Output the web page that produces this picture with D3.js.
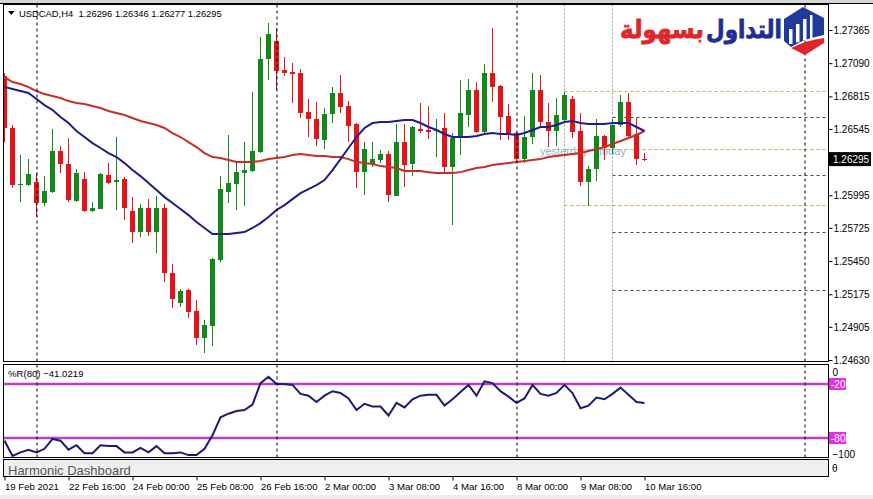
<!DOCTYPE html>
<html><head><meta charset="utf-8">
<script src="https://cdn.jsdelivr.net/npm/d3@7"></script>
<style>body{margin:0;background:#fff}svg{display:block}</style>
</head><body>
<svg id="c" width="873" height="499"></svg>
<script>
// ---------------- DATA ----------------
const symbol = "USDCAD,H4";
const headerOHLC = [1.26296, 1.26346, 1.26277, 1.26295];
const opens  = [1.26983,1.26553,1.26080,1.26080,1.26104,1.25931,1.26021,1.26362,1.26254,1.25948,1.26129,1.25865,1.25881,1.26163,1.26104,1.26129,1.25865,1.25690,1.25890,1.25690,1.25890,1.25350,1.25101,1.25209,1.25036,1.24812,1.24911,1.25458,1.26021,1.26088,1.26179,1.26196,1.26353,1.27124,1.27274,1.27033,1.27017,1.27008,1.26685,1.26627,1.26453,1.26669,1.26843,1.26735,1.26586,1.26187,1.26254,1.26287,1.26337,1.25988,1.26436,1.26254,1.26544,1.26536,1.26528,1.26553,1.26229,1.26478,1.26660,1.26868,1.26519,1.27008,1.26901,1.26652,1.26511,1.26295,1.26478,1.26868,1.26602,1.26528,1.26619,1.26793,1.26528,1.26104,1.26212,1.26486,1.26387,1.26578,1.26768,1.26503,1.26296];
const highs  = [1.27008,1.26578,1.26329,1.26295,1.26179,1.26154,1.26544,1.26403,1.26470,1.26212,1.26187,1.25939,1.26179,1.26262,1.26478,1.26146,1.25980,1.25923,1.25963,1.25988,1.25923,1.25425,1.25217,1.25217,1.25126,1.24961,1.25475,1.26154,1.26495,1.26262,1.26436,1.26851,1.27307,1.27423,1.27382,1.27141,1.27091,1.27041,1.26793,1.26768,1.26719,1.26892,1.26992,1.26776,1.26594,1.26436,1.26436,1.26370,1.26362,1.26586,1.26586,1.26569,1.26760,1.26735,1.26627,1.26677,1.26511,1.26950,1.26959,1.26934,1.27083,1.27382,1.26909,1.26752,1.26519,1.26652,1.27008,1.26992,1.26760,1.26801,1.26851,1.26818,1.26677,1.26237,1.26627,1.26495,1.26627,1.26826,1.26843,1.26636,1.26346];
const lows   = [1.26436,1.26055,1.25939,1.26071,1.25815,1.25906,1.26013,1.26179,1.25939,1.25939,1.25856,1.25856,1.25881,1.26088,1.25873,1.25790,1.25599,1.25649,1.25657,1.25516,1.25275,1.25060,1.25068,1.24978,1.24754,1.24687,1.24745,1.25441,1.25931,1.25873,1.25906,1.26187,1.26345,1.26950,1.26868,1.26983,1.26760,1.26636,1.26478,1.26403,1.26378,1.26594,1.26677,1.26436,1.26055,1.25997,1.26229,1.26262,1.25939,1.25988,1.26063,1.26154,1.26511,1.26461,1.26312,1.26187,1.25748,1.26329,1.26561,1.26511,1.26511,1.26768,1.26453,1.26453,1.26262,1.26262,1.26420,1.26561,1.26395,1.26403,1.26611,1.26470,1.26071,1.25906,1.26113,1.26287,1.26337,1.26561,1.26478,1.26246,1.26277];
const closes = [1.26553,1.26080,1.26088,1.26171,1.25931,1.26030,1.26362,1.26254,1.25956,1.26179,1.25865,1.25890,1.26171,1.26096,1.26121,1.25890,1.25690,1.25890,1.25690,1.25890,1.25350,1.25134,1.25201,1.25027,1.24812,1.24920,1.25466,1.26046,1.26096,1.26187,1.26204,1.26362,1.27124,1.27332,1.27025,1.27008,1.27000,1.26677,1.26627,1.26461,1.26669,1.26843,1.26727,1.26569,1.26187,1.26378,1.26295,1.26337,1.25997,1.26436,1.26246,1.26561,1.26528,1.26519,1.26536,1.26229,1.26470,1.26677,1.26868,1.26519,1.27008,1.26892,1.26644,1.26511,1.26295,1.26478,1.26868,1.26602,1.26528,1.26660,1.26826,1.26519,1.26104,1.26212,1.26486,1.26387,1.26578,1.26768,1.26486,1.26295,1.26295];
const maFast = [1.26892,1.26876,1.26859,1.26843,1.26793,1.26743,1.26702,1.26644,1.26594,1.26528,1.26478,1.26428,1.26387,1.26345,1.26312,1.26262,1.26204,1.26154,1.26096,1.26038,1.25980,1.25931,1.25881,1.25831,1.25773,1.25724,1.25674,1.25674,1.25674,1.25682,1.25690,1.25724,1.25765,1.25815,1.25873,1.25914,1.25963,1.26013,1.26046,1.26080,1.26121,1.26204,1.26295,1.26387,1.26478,1.26553,1.26594,1.26602,1.26602,1.26611,1.26619,1.26619,1.26594,1.26561,1.26536,1.26503,1.26478,1.26478,1.26478,1.26486,1.26503,1.26511,1.26503,1.26503,1.26495,1.26511,1.26536,1.26561,1.26561,1.26578,1.26602,1.26611,1.26594,1.26586,1.26586,1.26586,1.26594,1.26594,1.26594,1.26561,1.26528];
const maSlow = [1.26975,1.26934,1.26917,1.26892,1.26859,1.26834,1.26818,1.26801,1.26776,1.26760,1.26752,1.26735,1.26719,1.26694,1.26677,1.26660,1.26636,1.26611,1.26594,1.26578,1.26553,1.26511,1.26478,1.26436,1.26395,1.26345,1.26312,1.26304,1.26287,1.26271,1.26271,1.26271,1.26279,1.26295,1.26304,1.26312,1.26329,1.26337,1.26329,1.26320,1.26320,1.26312,1.26312,1.26295,1.26271,1.26262,1.26254,1.26237,1.26229,1.26221,1.26196,1.26196,1.26196,1.26187,1.26179,1.26179,1.26179,1.26187,1.26204,1.26221,1.26229,1.26246,1.26254,1.26262,1.26271,1.26279,1.26287,1.26295,1.26312,1.26320,1.26329,1.26337,1.26345,1.26362,1.26378,1.26395,1.26420,1.26445,1.26470,1.26495,1.26528];
const wpr = [-83,-100,-96,-93,-96,-92,-81,-83,-93,-88,-97,-97,-88,-89,-89,-96,-96,-91,-96,-89,-97,-97,-96,-99,-99,-92,-77,-57,-53,-50,-49,-43,-19,-12,-20,-20,-21,-31,-33,-40,-33,-28,-30,-36,-49,-42,-45,-45,-55,-41,-46,-37,-33,-32,-32,-44,-37,-29,-21,-33,-17,-19,-28,-34,-41,-36,-21,-31,-33,-30,-21,-30,-47,-44,-35,-37,-31,-24,-32,-40,-41.0219];
const wprPeriod = 80;
const wprLevels = [-20, -80];
const wprTicks = [0, -100];
const priceTicks = [1.27365,1.27090,1.26815,1.26545,1.25995,1.25725,1.25450,1.25175,1.24905,1.24630];
const currentPrice = 1.26295;
const timeLabels = ["19 Feb 2021","22 Feb 16:00","24 Feb 00:00","25 Feb 08:00","26 Feb 16:00","2 Mar 00:00","3 Mar 08:00","4 Mar 16:00","8 Mar 00:00","9 Mar 08:00","10 Mar 16:00"];
const timeLabelBars = [0,8,16,24,32,40,48,56,64,72,80];
const weekSeparators = [4,34,64,100];
const daySeparators = [70,76];
const yesterdayLevels = [1.26862,1.26379,1.25915];
const pivotLevels = [1.26644,1.26163,1.25691,1.25210];
const logoWords = ["التداول","بسهولة"];

// ---------------- LAYOUT ----------------
const W=873,H=499;
const L=3.5,R=828.5;
const mainTop=4.5,mainBot=361.5,indTop=364.5,indBot=457.5,dashTop=459.5,dashBot=476.5;
const FONT="'Liberation Sans', Arial, sans-serif";
const GREEN="#15861a", RED="#e3151b";

const svg=d3.select("#c");
svg.append("rect").attr("width",W).attr("height",H).attr("fill","#fff");
svg.append("rect").attr("width",W).attr("height",3).attr("fill","#d6d6d6");
svg.append("rect").attr("y",495).attr("width",W).attr("height",4).attr("fill","#ececec");

const x=d3.scaleLinear().domain([0,100]).range([4.5,804.5]);
const y=d3.scaleLinear().domain([1.24630,1.27365]).range([360,30]);
const yW=d3.scaleLinear().domain([-100,0]).range([456,366]);

const defs=svg.append("defs");
defs.append("clipPath").attr("id","mclip").append("rect").attr("x",4).attr("y",5).attr("width",824).attr("height",356);
defs.append("clipPath").attr("id","iclip").append("rect").attr("x",4).attr("y",365).attr("width",824).attr("height",92);

// panels
svg.append("line").attr("x1",0).attr("x2",W).attr("y1",3.5).attr("y2",3.5).attr("stroke","#000");
svg.append("rect").attr("x",L).attr("y",mainTop).attr("width",R-L).attr("height",mainBot-mainTop).attr("fill","#fff").attr("stroke","#000");
svg.append("rect").attr("x",L).attr("y",indTop).attr("width",R-L).attr("height",indBot-indTop).attr("fill","#fff").attr("stroke","#000");
svg.append("rect").attr("x",L).attr("y",dashTop).attr("width",R-L).attr("height",dashBot-dashTop).attr("fill","#efefef").attr("stroke","#000");

const main=svg.append("g").attr("clip-path","url(#mclip)");
const ind=svg.append("g").attr("clip-path","url(#iclip)");

// separators
weekSeparators.forEach(b=>{
  [[mainTop,mainBot],[indTop,indBot]].forEach(([a,c])=>{
    svg.append("line").attr("x1",Math.round(x(b))).attr("x2",Math.round(x(b)))
      .attr("y1",a).attr("y2",c).attr("stroke","#000").attr("stroke-dasharray","3,3");
  });
});
daySeparators.forEach(b=>{
  main.append("line").attr("x1",x(b)).attr("x2",x(b)).attr("y1",mainTop).attr("y2",mainBot)
    .attr("stroke","#9a9a9a").attr("stroke-dasharray","2,2");
});
yesterdayLevels.forEach(p=>{
  main.append("line").attr("x1",x(daySeparators[0])).attr("x2",R).attr("y1",Math.round(y(p))+0.5).attr("y2",Math.round(y(p))+0.5)
    .attr("stroke","#d6a54c").attr("stroke-dasharray","3,3");
});
pivotLevels.forEach(p=>{
  main.append("line").attr("x1",x(daySeparators[1])).attr("x2",R).attr("y1",Math.round(y(p))+0.5).attr("y2",Math.round(y(p))+0.5)
    .attr("stroke","#2e5e2e").attr("stroke-dasharray","3,3");
});
main.append("text").attr("x",540).attr("y",y(1.26327)).attr("font-family",FONT).attr("font-size",11).attr("fill","#8fb2c6").text("yesterday");
main.append("text").attr("x",599).attr("y",y(1.26327)).attr("font-family",FONT).attr("font-size",11).attr("fill","#8fb2c6").text("today");

// candles
const idx=d3.range(opens.length);
const cg=main.append("g").attr("shape-rendering","crispEdges");
cg.selectAll("line.w").data(idx).join("line")
  .attr("x1",i=>x(i)).attr("x2",i=>x(i)).attr("y1",i=>y(highs[i])).attr("y2",i=>y(lows[i]))
  .attr("stroke",i=>closes[i]>=opens[i]?GREEN:RED);
cg.selectAll("rect").data(idx).join("rect")
  .attr("x",i=>x(i)-2.5).attr("width",5)
  .attr("y",i=>y(Math.max(opens[i],closes[i])))
  .attr("height",i=>Math.max(1,Math.abs(y(opens[i])-y(closes[i]))))
  .attr("fill",i=>closes[i]>=opens[i]?GREEN:RED);

// moving averages
const ln=d3.line().x((d,i)=>x(i)).y(d=>y(d));
main.append("path").attr("d",ln(maSlow)).attr("fill","none").attr("stroke","#c62f29").attr("stroke-width",2);
main.append("path").attr("d",ln(maFast)).attr("fill","none").attr("stroke","#1c1c8e").attr("stroke-width",2);

// %R
wprLevels.forEach(v=>{
  ind.append("line").attr("x1",L).attr("x2",R).attr("y1",yW(v)).attr("y2",yW(v)).attr("stroke","#c23ec8").attr("stroke-width",2.5);
});
const lnW=d3.line().x((d,i)=>x(i)).y(d=>yW(d));
ind.append("path").attr("d",lnW(wpr)).attr("fill","none").attr("stroke","#1b1b70").attr("stroke-width",2);

// price axis
const ay=svg.append("g").attr("transform",`translate(${R},0)`)
  .call(d3.axisRight(y).tickValues(priceTicks).tickFormat(d3.format(".5f")).tickSize(4).tickPadding(1));
ay.select(".domain").remove();
ay.selectAll("text").attr("font-family",FONT).attr("font-size",10).attr("fill","#000");
svg.append("rect").attr("x",829).attr("y",y(currentPrice)-7).attr("width",42).attr("height",14).attr("fill","#000");
svg.append("text").attr("x",833).attr("y",y(currentPrice)+4).attr("font-family",FONT).attr("font-size",10).attr("fill","#fff").text(d3.format(".5f")(currentPrice));

// %R axis
const aw=svg.append("g").attr("transform",`translate(${R},0)`)
  .call(d3.axisRight(yW).tickValues(wprTicks).tickSize(0).tickPadding(4));
aw.select(".domain").remove();
aw.selectAll("text").attr("font-family",FONT).attr("font-size",10).attr("fill","#000")
  .attr("dy",(d)=>d===0?"0.9em":"0.1em");
wprLevels.forEach(v=>{
  svg.append("rect").attr("x",829).attr("y",yW(v)-6).attr("width",17).attr("height",12).attr("fill","#e032e0");
  svg.append("text").attr("x",831).attr("y",yW(v)+4).attr("font-family",FONT).attr("font-size",10).attr("fill","#fff").text(v);
});
svg.append("text").attr("x",832).attr("y",472).attr("font-family",FONT).attr("font-size",10).text("θ");

// time axis
const ax=svg.append("g").attr("transform",`translate(0,${dashBot})`)
  .call(d3.axisBottom(x).tickValues(timeLabelBars).tickFormat((d,i)=>timeLabels[i]).tickSize(4));
ax.select(".domain").remove();
ax.selectAll("text").attr("font-family",FONT).attr("font-size",9.6).attr("fill","#000")
  .attr("text-anchor","start").attr("y",13.5).attr("dy",0).attr("x",0);

// headers
svg.append("path").attr("d","M8,11 L14.5,11 L11.25,15 Z").attr("fill","#000");
svg.append("text").attr("x",19).attr("y",17).attr("font-family",FONT).attr("font-size",9.4)
  .attr("xml:space","preserve").text(symbol+"  "+headerOHLC.map(d3.format(".5f")).join(" "));
svg.append("text").attr("x",8).attr("y",377).attr("font-family",FONT).attr("font-size",9.6)
  .text(`%R(${wprPeriod}) ${d3.format(".4f")(wpr[wpr.length-1])}`);
svg.append("text").attr("x",8).attr("y",475).attr("font-family",FONT).attr("font-size",13).attr("fill","#555").text("Harmonic Dashboard");

// logo
const lg=svg.append("g");
function fitWord(word,cx,width,color){
  const t=lg.append("text").attr("x",cx).attr("y",38).attr("text-anchor","middle")
    .attr("font-family","'DejaVu Sans'").attr("font-weight","bold").attr("font-size",25)
    .attr("fill",color).attr("stroke",color).attr("stroke-width",0.8).text(word);
  const w=t.node().getBBox().width;
  const s=width/w;
  t.attr("transform",`translate(${cx},0) scale(${s},1) translate(${-cx},0)`);
}
fitWord(logoWords[0],744,76,"#1f2f8f");
fitWord(logoWords[1],662,84,"#e0262b");
lg.append("path").attr("d","M803,7 L824,18 L824,35 Q806,38 791,47 L784,41 L784,19 Z").attr("fill","#1f3a9a");
lg.append("path").attr("d","M791,48 Q807,40 824,38 L824,43 L805,55 Z").attr("fill","#e0262b");
[[789,29,5],[796,24,5],[803,19,5],[810,15,4]].forEach(([bx,by,bw])=>{
  lg.append("rect").attr("x",bx).attr("y",by).attr("width",bw-1.5).attr("height",44-by-(bx-789)*0.25).attr("fill","#fff");
});
</script>
</body></html>
